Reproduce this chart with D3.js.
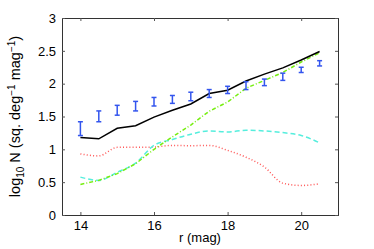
<!DOCTYPE html>
<html lang="en">
<head>
<meta charset="UTF-8" />
<script src="https://d3js.org/d3.v7.min.js"></script>
<style>
  body { margin: 0; background: #fff; }
  text { font-family: "Liberation Sans", Arial, sans-serif; }
</style>
</head>
<body>
<script>
// magnitudes
var mags = [14, 14.5, 15, 15.5, 16, 16.5, 17, 17.5, 18, 18.5, 19, 19.5, 20, 20.5];
// observed counts with error bars
var obsLo = [1.21, 1.42, 1.52, 1.585, 1.66, 1.70, 1.74, 1.79, 1.85, 1.91, 1.97, 2.05, 2.17, 2.27];
var obsHi = [1.42, 1.585, 1.67, 1.73, 1.79, 1.82, 1.87, 1.91, 1.96, 2.03, 2.07, 2.16, 2.25, 2.35];
// model curves
var total = [1.18, 1.16, 1.32, 1.36, 1.49, 1.595, 1.69, 1.85, 1.90, 2.04, 2.145, 2.24, 2.36, 2.49];
var green = [0.466, 0.527, 0.63, 0.78, 1.0, 1.19, 1.37, 1.58, 1.72, 1.93, 2.05, 2.17, 2.33, 2.47];
var cyan = [0.577, 0.527, 0.65, 0.79, 1.06, 1.15, 1.23, 1.28, 1.265, 1.29, 1.28, 1.255, 1.21, 1.10];
var red = [0.93, 0.90, 1.03, 1.03, 1.035, 1.06, 1.055, 1.06, 0.985, 0.88, 0.73, 0.485, 0.45, 0.475];
var xTicks = [14, 16, 18, 20];
var yTicks = [0, 0.5, 1, 1.5, 2, 2.5, 3];

var width = 374, height = 249;
var margin = { left: 62, right: 36, top: 18, bottom: 34 };
var w = width - margin.left - margin.right, h = height - margin.top - margin.bottom;

var svg = d3.select("body").append("svg").attr("width", width).attr("height", height);
var g = svg.append("g").attr("transform", "translate(" + margin.left + "," + margin.top + ")");

var x = d3.scaleLinear().domain([13.5, 21]).range([0, w]);
var y = d3.scaleLinear().domain([0, 3]).range([h, 0]);

// axes, MATLAB style inward ticks on all four sides
g.append("g").attr("transform", "translate(0," + h + ")")
  .call(d3.axisBottom(x).tickValues(xTicks).tickSize(-3).tickPadding(6).tickFormat(d3.format("d")));
g.append("g").call(d3.axisTop(x).tickValues(xTicks).tickSize(-3).tickFormat(""));
g.append("g").call(d3.axisLeft(y).tickValues(yTicks).tickSize(-3).tickPadding(6).tickFormat(d3.format("")));
g.append("g").attr("transform", "translate(" + w + ",0)")
  .call(d3.axisRight(y).tickValues(yTicks).tickSize(-3).tickFormat(""));
g.selectAll(".domain").attr("stroke", "#333");
g.selectAll(".tick line").attr("stroke", "#555");
g.selectAll(".tick text").attr("font-size", 13).attr("fill", "#000");

function draw(vals, color, dash, curve) {
  var line = d3.line().x(function (d, i) { return x(mags[i]); }).y(function (d) { return y(d); }).curve(curve);
  g.append("path").datum(vals).attr("d", line).attr("fill", "none")
    .attr("stroke", color).attr("stroke-width", 1.5).attr("stroke-dasharray", dash);
}

draw(red, "#ff5555", "1,2.2", d3.curveMonotoneX);
draw(cyan, "#55eedd", "5,3", d3.curveMonotoneX);
draw(green, "#77ee11", "4,2,1,2", d3.curveLinear);
draw(total, "#000", null, d3.curveLinear);

// error bars
var eb = g.append("g").attr("stroke", "#3355ee").attr("stroke-width", 1.5);
mags.forEach(function (m, i) {
  var cx = x(m);
  eb.append("line").attr("x1", cx).attr("x2", cx).attr("y1", y(obsLo[i])).attr("y2", y(obsHi[i]));
  eb.append("line").attr("x1", cx - 2.5).attr("x2", cx + 2.5).attr("y1", y(obsLo[i])).attr("y2", y(obsLo[i]));
  eb.append("line").attr("x1", cx - 2.5).attr("x2", cx + 2.5).attr("y1", y(obsHi[i])).attr("y2", y(obsHi[i]));
});

// labels
svg.append("text").attr("x", margin.left + w / 2).attr("y", 242)
  .attr("text-anchor", "middle").attr("font-size", 13).text("r (mag)");

var yl = svg.append("text").attr("transform", "translate(19.5," + (margin.top + h / 2) + ") rotate(-90)")
  .attr("text-anchor", "middle").attr("font-size", 14.5);
yl.append("tspan").text("log");
yl.append("tspan").attr("font-size", 10).attr("dy", 4).text("10");
yl.append("tspan").attr("dy", -4).text(" N (sq. deg");
yl.append("tspan").attr("font-size", 10).attr("dy", -5).text("\u22121");
yl.append("tspan").attr("dy", 5).text(" mag");
yl.append("tspan").attr("font-size", 10).attr("dy", -5).text("\u22121");
yl.append("tspan").attr("dy", 5).text(")");
</script>
</body>
</html>
